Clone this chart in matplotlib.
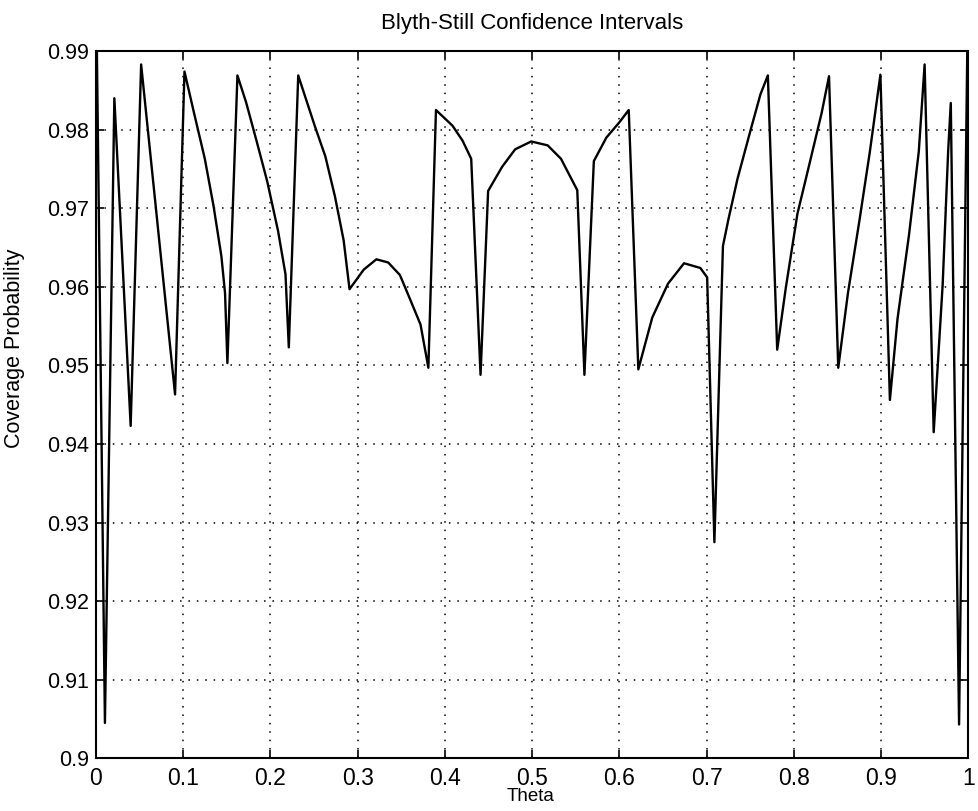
import matplotlib
matplotlib.use('Agg')
import matplotlib.pyplot as plt

plt.rcParams['font.family'] = ['Liberation Sans', 'DejaVu Sans']

# Dados (theta, probabilidade de cobertura)
theta = [0.0, 0.0103, 0.0211, 0.0398, 0.0518, 0.0907, 0.1015, 0.1125, 0.1248, 0.1348,
         0.1438, 0.148, 0.1507, 0.1622, 0.1721, 0.1843, 0.1964, 0.2088, 0.2173, 0.2211,
         0.2319, 0.2511, 0.263, 0.274, 0.284, 0.2907, 0.3071, 0.3215, 0.335, 0.3485,
         0.3602, 0.3721, 0.3811, 0.3898, 0.4088, 0.4203, 0.4302, 0.4409, 0.4496, 0.4658,
         0.4806, 0.499, 0.5179, 0.5331, 0.5518, 0.56, 0.5708, 0.5852, 0.5998, 0.6108,
         0.6218, 0.6378, 0.6558, 0.6742, 0.6929, 0.7007, 0.709, 0.7188, 0.7253, 0.7356,
         0.7499, 0.7618, 0.7703, 0.781, 0.7909, 0.8042, 0.8181, 0.8319, 0.8404, 0.851,
         0.8621, 0.8755, 0.8871, 0.8993, 0.9102, 0.9189, 0.9321, 0.9433, 0.95, 0.9604,
         0.9707, 0.977, 0.98, 0.9895, 1.0]
coverage = [1.0, 0.9045, 0.984, 0.9423, 0.9883, 0.9463, 0.9874, 0.9821, 0.9763, 0.9703,
            0.9639, 0.9592, 0.9503, 0.9869, 0.9835, 0.9785, 0.9734, 0.9671, 0.9616, 0.9523,
            0.9869, 0.9804, 0.9766, 0.9715, 0.9659, 0.9597, 0.9622, 0.9635, 0.9631, 0.9615,
            0.9584, 0.9552, 0.9497, 0.9825, 0.9805, 0.9786, 0.9763, 0.9488, 0.9722, 0.9753,
            0.9775, 0.9785, 0.978, 0.9763, 0.9723, 0.9488, 0.976, 0.979, 0.9809, 0.9825,
            0.9495, 0.9561, 0.9604, 0.963, 0.9624, 0.9612, 0.9275, 0.9652, 0.9687, 0.9738,
            0.9797, 0.9845, 0.9869, 0.952, 0.9599, 0.9693, 0.9757, 0.9821, 0.9868, 0.9497,
            0.9592, 0.9686, 0.9771, 0.987, 0.9456, 0.9559, 0.9666, 0.9772, 0.9883, 0.9415,
            0.9603, 0.9773, 0.9834, 0.9043, 1.0]

x_ticks = [0, 0.1, 0.2, 0.3, 0.4, 0.5, 0.6, 0.7, 0.8, 0.9, 1.0]
x_tick_labels = ['0', '0.1', '0.2', '0.3', '0.4', '0.5', '0.6', '0.7', '0.8', '0.9', '1']
y_ticks = [0.9, 0.91, 0.92, 0.93, 0.94, 0.95, 0.96, 0.97, 0.98, 0.99]
y_tick_labels = ['0.9', '0.91', '0.92', '0.93', '0.94', '0.95', '0.96', '0.97', '0.98', '0.99']

fig = plt.figure(figsize=(9.79, 8.11), dpi=100)
ax = fig.add_axes([0.098, 0.065, 0.891, 0.872])

ax.plot(theta, coverage, color='black', linewidth=1.7)

ax.set_xlim(0, 1)
ax.set_ylim(0.9, 0.99)
ax.set_xticks(x_ticks)
ax.set_xticklabels(x_tick_labels)
ax.set_yticks(y_ticks)
ax.set_yticklabels(y_tick_labels)

ax.tick_params(direction='in', length=6, width=1.2, top=True, right=True, colors='black')
ax.tick_params(axis='x', pad=6, labelsize=16.5)
ax.tick_params(axis='y', pad=5, labelsize=15.5)
ax.grid(True, color='black', linestyle=(0, (1, 4.5)), linewidth=1.1)

for s in ax.spines.values():
    s.set_linewidth(1.5)
    s.set_color('black')

ax.set_title('Blyth-Still Confidence Intervals', fontsize=16, pad=16)
ax.set_xlabel('Theta', fontsize=13.5)
ax.xaxis.set_label_coords(0.498, -0.042)
ax.set_ylabel('Coverage Probability', fontsize=15.5)
ax.yaxis.set_label_coords(-0.081, 0.58)

fig.savefig('out.png', dpi=100)
